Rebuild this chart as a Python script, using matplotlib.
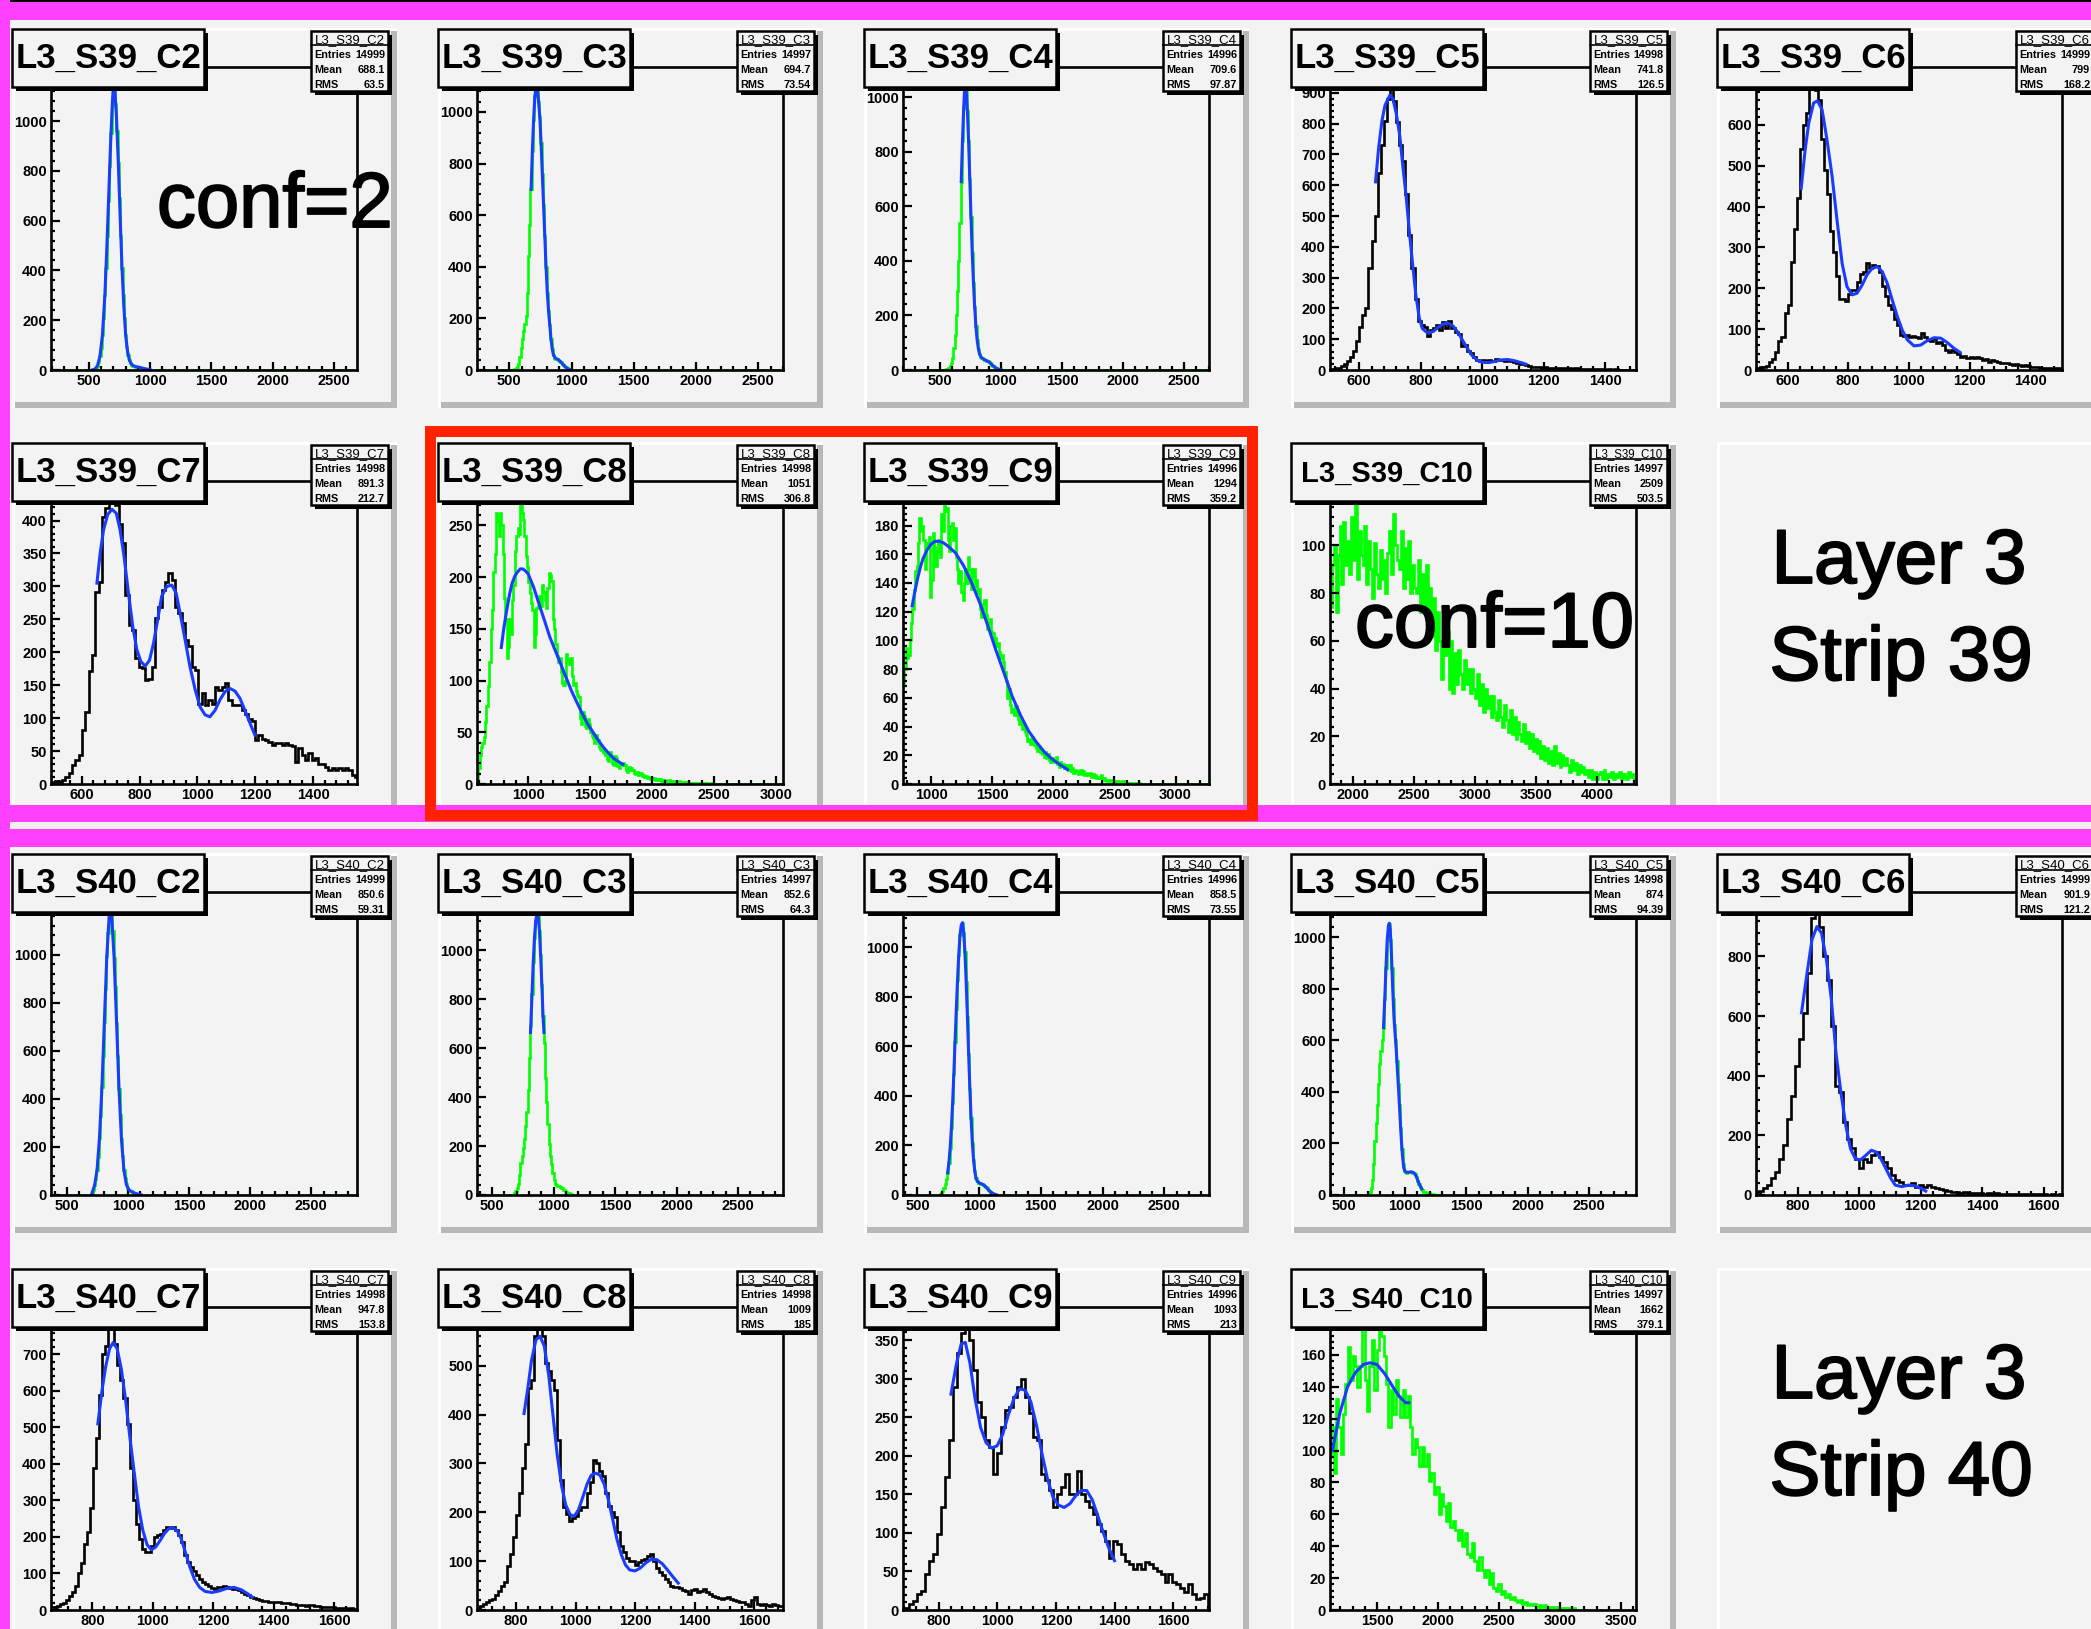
import numpy as np
import matplotlib
matplotlib.use('Agg')
import matplotlib.pyplot as plt
import matplotlib.patheffects as pe
from matplotlib.patches import Rectangle
from matplotlib.ticker import MultipleLocator

plt.rcParams['font.family'] = ['Liberation Sans', 'DejaVu Sans']
plt.rcParams['font.weight'] = 'bold'

W, H = 2091, 1629
PAD_X = [12, 438, 864, 1291, 1717]
PAD_Y = [28, 442, 853, 1268]
PAD_W, PAD_H = 385, 380

BG = '#f3f3f3'
GREEN = '#00ff00'
BLUE = '#1a3cff'
MAGENTA = '#ff40ff'
RED = '#ff2200'

# ---------------- strip 39 ----------------
s39_c2_counts = [1, 2, 4, 8, 18, 32, 55, 88, 140, 210, 300, 410, 540, 680, 820, 950, 1060, 1150,
                 1140, 1070, 960, 830, 690, 540, 410, 300, 210, 140, 92, 60, 40, 28, 22, 18, 16, 14,
                 13, 12, 11, 10, 8, 7, 6, 5, 4, 3, 2, 1, 1]
s39_c2_fit = [(530, 1), (550, 4), (570, 18), (590, 55), (610, 140), (630, 300), (645, 475), (660, 680),
              (675, 885), (690, 1060), (700, 1150), (710, 1140), (725, 1015), (740, 830), (755, 615),
              (770, 410), (785, 255), (800, 140), (815, 76), (830, 40), (845, 25), (860, 18), (880, 14),
              (900, 12), (920, 10), (940, 7), (960, 5), (980, 3), (1000, 1)]

s39_c3_counts = [3, 6, 12, 25, 50, 85, 120, 150, 180, 210, 300, 440, 560, 700, 850, 970, 1060, 1100,
                 1090, 1040, 980, 880, 760, 640, 520, 400, 300, 230, 175, 120, 80, 58, 48, 44, 42, 40,
                 36, 30, 24, 19, 14, 10, 7, 4, 2, 1]
s39_c3_fit = [(675, 700), (685, 850), (695, 970), (705, 1060), (715, 1100), (725, 1090), (735, 1040),
              (745, 980), (755, 880), (765, 760), (775, 640), (785, 520), (795, 400), (805, 300),
              (815, 230), (825, 175), (835, 120), (845, 80), (855, 58), (870, 46), (890, 41), (910, 33),
              (930, 22), (950, 12), (970, 5), (990, 1)]

s39_c4_counts = [2, 4, 8, 14, 25, 45, 80, 130, 200, 290, 400, 540, 690, 840, 960, 1050, 1030, 950,
                 840, 700, 560, 430, 320, 230, 160, 110, 78, 58, 48, 43, 40, 38, 36, 34, 32, 28, 24,
                 20, 16, 12, 9, 6, 4, 3, 2, 1]
s39_c4_fit = [(675, 690), (685, 840), (695, 960), (705, 1050), (715, 1030), (725, 950), (735, 840),
              (745, 700), (755, 560), (765, 430), (775, 320), (785, 230), (795, 160), (805, 110),
              (815, 78), (825, 58), (840, 46), (860, 39), (880, 35), (900, 30), (920, 22), (940, 14),
              (960, 7), (980, 3), (1000, 1)]

s39_c5_counts = [3, 4, 5, 6, 12, 18, 28, 42, 62, 95,
                 140, 180, 200, 330, 420, 500, 640, 730, 810, 880,
                 935, 875, 805, 730, 680, 570, 440, 330, 230, 160,
                 145, 140, 110, 130, 135, 145, 130, 157, 138, 160,
                 135, 122, 118, 78, 80, 62, 55, 42, 33, 30,
                 32, 28, 33, 30, 35, 31, 34, 30, 33, 29,
                 26, 22, 20, 18, 16, 12, 10, 9, 10, 8,
                 9, 7, 8, 6, 7, 5, 6, 5, 7, 4,
                 5, 4, 3, 4, 3, 2, 3, 2, 3, 2,
                 1, 2, 1, 2, 1, 1, 1, 0, 1, 0]
s39_c5_fit = [(653, 611), (663, 720), (674, 810), (684, 860), (700, 893), (710, 880), (721, 830),
              (732, 760), (742, 660), (753, 560), (763, 450), (774, 340), (784, 245), (795, 170),
              (805, 135), (816, 125), (826, 120), (842, 126), (858, 140), (874, 150), (890, 152),
              (905, 143), (921, 122), (937, 95), (953, 68), (968, 46), (984, 32), (1000, 25),
              (1021, 24), (1042, 28), (1063, 33), (1084, 34), (1105, 30), (1126, 24), (1142, 19)]

s39_c6_counts = [5, 8, 8, 10, 20, 28, 45, 70, 80, 140,
                 160, 265, 345, 420, 540, 600, 630, 700, 705, 685,
                 660, 565, 490, 430, 340, 290, 230, 175, 175, 170,
                 185, 195, 195, 215, 235, 240, 262, 250, 258, 255,
                 240, 205, 180, 160, 150, 125, 110, 86, 84, 86,
                 80, 84, 82, 78, 90, 80, 74, 70, 78, 65,
                 69, 62, 49, 45, 48, 45, 38, 33, 35, 29,
                 31, 29, 33, 30, 25, 28, 20, 25, 22, 20,
                 18, 16, 18, 15, 12, 14, 12, 10, 12, 9,
                 8, 7, 8, 6, 5, 6, 4, 3, 5, 6]
s39_c6_fit = [(645, 445), (658, 539), (670, 605), (686, 654), (699, 659), (714, 637), (730, 564),
              (747, 474), (763, 368), (780, 261), (796, 204), (813, 184), (829, 188), (846, 208),
              (862, 233), (879, 249), (896, 253), (912, 241), (929, 212), (945, 172), (962, 131),
              (978, 98), (995, 74), (1017, 59), (1039, 61), (1061, 72), (1083, 79), (1105, 78),
              (1127, 67), (1149, 53), (1169, 43)]

s39_c7_counts = [3, 4, 3, 6, 10, 16, 29, 36, 44, 82,
                 110, 171, 196, 292, 307, 406, 419, 431, 438, 424,
                 395, 366, 287, 241, 234, 191, 178, 176, 158, 160,
                 178, 252, 269, 295, 307, 320, 310, 269, 259, 244,
                 219, 209, 178, 173, 122, 138, 120, 128, 122, 148,
                 143, 148, 153, 128, 120, 120, 120, 112, 107, 98,
                 95, 67, 74, 69, 67, 64, 59, 62, 62, 59,
                 62, 59, 57, 34, 54, 44, 36, 47, 36, 39,
                 31, 31, 26, 21, 24, 21, 24, 21, 24, 22,
                 14, 11]
s39_c7_fit = [(652, 305), (663, 350), (675, 386), (689, 409), (704, 417), (719, 411), (732, 386),
              (746, 345), (761, 290), (776, 239), (790, 204), (804, 186), (819, 179), (834, 188),
              (848, 214), (862, 249), (876, 285), (894, 300), (911, 302), (926, 290), (940, 259),
              (957, 219), (974, 178), (992, 143), (1009, 117), (1026, 105), (1043, 102), (1061, 112),
              (1078, 128), (1095, 140), (1113, 145), (1130, 141), (1147, 130), (1164, 112),
              (1182, 92), (1199, 74)]

s39_c8_counts = [5, 15, 28, 36, 40, 45, 60, 75, 95, 118, 150, 168, 205, 222, 262, 254, 240, 262, 250,
                 222, 180, 160, 122, 132, 160, 145, 178, 192, 225, 240, 248, 242, 279, 262, 255, 240,
                 220, 210, 195, 185, 175, 168, 132, 145, 170, 172, 182, 172, 192, 186, 178, 170, 190,
                 204, 202, 196, 160, 150, 135, 124, 118, 122, 108, 98, 96, 100, 126, 120, 116, 122,
                 104, 96, 98, 90, 86, 84, 64, 58, 70, 66, 56, 54, 63, 58, 50, 46, 44, 40, 47, 43, 36,
                 34, 33, 31, 30, 28, 24, 22, 31, 27, 20, 18, 27, 25, 17, 15, 20, 18, 20, 18, 14, 12,
                 16, 14, 15, 14, 11, 10, 12, 9, 10, 11, 8, 9, 7, 8, 6, 7, 5, 6, 5, 6, 4, 5, 4, 5, 3,
                 4, 3, 4, 3, 3, 4, 2, 3, 2, 3, 2, 2, 3, 1, 2, 2, 1, 2, 1, 2, 1, 1, 0, 1, 1, 0, 1, 0,
                 1, 0, 0, 1, 0, 1, 0, 0, 1]
s39_c8_fit = [(782, 132), (804, 152), (826, 168), (848, 183), (869, 194), (891, 201), (913, 205),
              (935, 208), (956, 208), (978, 206), (1000, 203), (1044, 190), (1087, 174), (1131, 158),
              (1174, 142), (1218, 129), (1262, 116), (1305, 103), (1349, 90), (1392, 79), (1436, 68),
              (1479, 58), (1523, 50), (1567, 42), (1610, 35), (1654, 29), (1697, 24), (1763, 19)]

s39_c9_counts = [70, 80, 95, 88, 90, 100, 112, 122, 135, 148, 152, 168, 185, 176, 180, 170, 150, 165,
                 168, 172, 130, 142, 175, 165, 152, 162, 170, 158, 188, 176, 198, 190, 192, 170, 162,
                 180, 182, 170, 178, 158, 150, 140, 148, 134, 128, 140, 150, 140, 158, 150, 136, 145,
                 150, 138, 142, 133, 136, 122, 116, 125, 128, 118, 108, 112, 115, 106, 105, 98, 102,
                 96, 98, 92, 88, 90, 85, 78, 72, 60, 66, 55, 50, 52, 48, 54, 48, 45, 42, 44, 38, 41,
                 36, 34, 30, 31, 28, 33, 30, 27, 25, 23, 25, 22, 24, 21, 19, 22, 18, 21, 17, 15, 18,
                 16, 15, 19, 14, 12, 15, 13, 14, 11, 13, 12, 10, 13, 9, 11, 8, 10, 9, 7, 8, 10, 7, 9,
                 6, 8, 7, 6, 8, 5, 7, 5, 6, 4, 5, 4, 6, 3, 4, 3, 2, 3, 2, 2, 3, 1, 2, 2, 1, 2, 1, 1,
                 2, 0, 1, 1, 0, 1, 0, 1, 0, 0, 1, 0, 1]
s39_c9_fit = [(845, 124), (867, 134), (889, 143), (912, 151), (934, 157), (967, 163), (1000, 167),
              (1033, 169), (1066, 169), (1100, 168), (1133, 166), (1199, 161), (1266, 152),
              (1332, 140), (1399, 126), (1465, 110), (1531, 93), (1598, 77), (1664, 61), (1731, 48),
              (1797, 37), (1863, 29), (1930, 22), (1996, 17), (2063, 13), (2116, 10)]

s39_c10_counts = [74, 92, 100, 72, 96, 108, 84, 110, 92, 102, 88, 112, 94, 117, 86, 106, 96, 92, 108,
                  84, 102, 90, 78, 101, 88, 82, 98, 86, 94, 80, 97, 106, 88, 113, 100, 94, 90, 106, 82,
                  99, 86, 102, 80, 92, 82, 80, 94, 72, 88, 74, 92, 70, 82, 62, 78, 56, 72, 60, 44, 70,
                  54, 64, 40, 60, 38, 55, 42, 56, 46, 40, 52, 42, 48, 38, 48, 40, 36, 46, 33, 42, 30,
                  40, 32, 37, 28, 37, 30, 27, 35, 28, 24, 33, 27, 22, 31, 21, 28, 19, 26, 21, 18, 25,
                  17, 22, 15, 21, 14, 19, 13, 18, 11, 16, 10, 15, 9, 14, 8, 16, 9, 13, 7, 12, 8, 11,
                  8, 5, 10, 6, 9, 4, 8, 5, 7, 4, 6, 3, 6, 2, 5, 2, 4, 5, 2, 6, 2, 4, 3, 5, 2, 4, 3, 5,
                  2, 4, 3, 2, 5, 3, 4, 2]

# ---------------- strip 40 ----------------
s40_c2_counts = [9, 21, 41, 68, 103, 158, 238, 327, 448, 578, 722, 858, 993, 1092, 1168, 1192, 1160,
                 1098, 985, 864, 716, 579, 441, 334, 231, 163, 104, 70, 44, 31, 22, 17, 15, 12, 10, 8,
                 6, 5, 4, 3, 2, 1]
s40_c2_fit = [(705, 9), (725, 41), (745, 103), (765, 238), (785, 448), (805, 722), (825, 993),
              (845, 1168), (855, 1192), (865, 1160), (885, 985), (905, 716), (925, 441), (945, 231),
              (965, 104), (985, 44), (1005, 22), (1025, 15), (1045, 10), (1065, 6), (1085, 3),
              (1105, 1)]

s40_c3_counts = [8, 16, 30, 45, 80, 130, 160, 190, 230, 280, 340, 430, 560, 690, 820, 950, 1050, 1120,
                 1150, 1140, 1080, 980, 860, 730, 620, 480, 380, 290, 210, 160, 125, 90, 60, 45, 40,
                 38, 36, 33, 30, 27, 22, 18, 14, 10, 7, 5, 3, 2, 1]
s40_c3_fit = [(813, 664), (825, 820), (835, 950), (845, 1050), (855, 1120), (865, 1150), (875, 1140),
              (885, 1080), (895, 980), (905, 860), (915, 730), (922, 664)]

s40_c4_counts = [5, 10, 18, 30, 45, 65, 90, 130, 190, 270, 370, 490, 620, 750, 870, 970, 1050, 1090,
                 1100, 1060, 980, 860, 720, 570, 430, 310, 210, 140, 95, 68, 55, 50, 48, 46, 44, 42,
                 38, 33, 27, 21, 16, 11, 8, 5, 3, 2, 1]
s40_c4_fit = [(745, 90), (755, 130), (765, 190), (775, 270), (785, 370), (795, 490), (805, 620),
              (815, 750), (825, 870), (835, 970), (845, 1050), (855, 1090), (865, 1100), (875, 1060),
              (885, 980), (895, 860), (905, 720), (915, 570), (925, 430), (935, 310), (945, 210),
              (955, 140), (965, 95), (975, 68), (985, 55), (1000, 49), (1020, 45), (1040, 40),
              (1060, 30), (1080, 18), (1100, 10), (1120, 4), (1140, 1)]

s40_c5_counts = [5, 12, 28, 60, 120, 210, 280, 350, 430, 510, 560, 600, 650, 760, 880, 990, 1045,
                 1050, 990, 880, 760, 660, 600, 520, 430, 350, 260, 180, 120, 95, 88, 86, 88, 90, 89,
                 88, 86, 84, 80, 70, 56, 42, 32, 24, 18, 13, 10, 8, 7, 6, 5, 4, 3, 2, 1]
s40_c5_fit = [(825, 650), (835, 760), (845, 880), (855, 990), (865, 1045), (872, 1055), (880, 1030),
              (890, 930), (900, 800), (910, 690), (920, 620), (930, 555), (940, 470), (950, 390),
              (960, 300), (970, 215), (980, 150), (990, 105), (1000, 92), (1015, 88), (1030, 88),
              (1045, 90), (1060, 89), (1075, 85), (1090, 74), (1105, 56), (1120, 38), (1136, 24)]

s40_c6_counts = [11, 15, 22, 35, 56, 78, 122, 167, 256, 333, 433, 522, 611, 744, 930, 965, 900, 800,
                 722, 567, 367, 344, 244, 189, 156, 122, 89, 122, 111, 133, 144, 128, 111, 89, 67, 50,
                 44, 33, 33, 39, 28, 33, 28, 33, 28, 22, 20, 17, 13, 11, 9, 8, 9, 7, 8, 6, 7, 5, 6, 5,
                 6, 4, 5, 4, 3, 4, 3, 4, 2, 3, 2, 3, 2, 1, 2, 1, 2]
s40_c6_fit = [(813, 611), (831, 744), (847, 856), (863, 900), (878, 878), (894, 789), (910, 656),
              (925, 478), (941, 344), (957, 233), (972, 156), (988, 122), (1004, 117), (1022, 133),
              (1040, 150), (1056, 144), (1071, 122), (1087, 89), (1103, 56), (1118, 33), (1139, 28),
              (1160, 33), (1181, 31), (1202, 22), (1217, 13)]

s40_c7_counts = [7, 7, 10, 16, 20, 27, 38, 50, 65, 100, 128, 180, 215, 280, 390, 470, 590, 700, 722,
                 780, 790, 730, 670, 630, 580, 510, 390, 300, 236, 195, 168, 160, 160, 175, 199, 205,
                 209, 218, 227, 225, 226, 218, 205, 186, 150, 132, 118, 108, 96, 86, 76, 70, 67, 60,
                 58, 62, 64, 67, 62, 60, 58, 57, 55, 50, 45, 40, 35, 32, 30, 27, 26, 26, 23, 21, 22,
                 21, 19, 18, 20, 17, 16, 15, 14, 13, 12, 14, 13, 12, 11, 9, 8, 7, 7, 7, 6, 5, 5, 5, 4,
                 5, 4]
s40_c7_fit = [(818, 510), (832, 602), (844, 667), (857, 716), (869, 733), (882, 716), (896, 659),
              (910, 575), (924, 474), (939, 373), (953, 282), (967, 218), (981, 179), (995, 165),
              (1009, 172), (1024, 190), (1038, 209), (1052, 222), (1066, 226), (1081, 217),
              (1095, 193), (1109, 155), (1123, 117), (1138, 84), (1155, 62), (1173, 51), (1196, 48),
              (1219, 52), (1244, 59), (1269, 62), (1294, 55), (1315, 44), (1330, 35)]

s40_c8_counts = [5, 8, 12, 16, 20, 23, 30, 38, 50, 57, 90, 115, 150, 195, 240, 290, 340, 455, 470, 560,
                 575, 590, 560, 505, 490, 470, 450, 348, 265, 211, 197, 183, 188, 192, 205, 211, 211,
                 240, 262, 306, 300, 285, 275, 240, 212, 200, 190, 160, 130, 118, 106, 101, 101, 93,
                 99, 103, 105, 110, 115, 100, 86, 78, 72, 64, 57, 50, 47, 47, 45, 40, 38, 33, 40, 43,
                 36, 38, 43, 36, 33, 28, 26, 24, 23, 25, 27, 23, 21, 19, 17, 16, 12, 9, 20, 26, 12, 11,
                 12, 10, 9, 12, 10, 9, 9]
s40_c8_fit = [(827, 402), (840, 455), (852, 510), (867, 553), (881, 560), (895, 540), (910, 480),
              (924, 400), (938, 320), (953, 255), (967, 215), (982, 195), (996, 192), (1010, 205),
              (1025, 232), (1039, 258), (1053, 276), (1068, 280), (1082, 276), (1096, 258),
              (1110, 226), (1125, 185), (1139, 145), (1154, 113), (1168, 92), (1182, 82), (1200, 80),
              (1218, 86), (1237, 97), (1255, 104), (1273, 103), (1291, 95), (1309, 82), (1327, 68),
              (1345, 55)]

s40_c9_counts = [1, 3, 8, 12, 21, 25, 47, 64, 73, 99, 133, 172, 220, 289, 333, 359, 372, 350, 311,
                 270, 250, 220, 211, 177, 203, 237, 259, 263, 276, 289, 300, 276, 255, 224, 220, 177,
                 168, 155, 133, 151, 159, 177, 151, 151, 180, 151, 142, 133, 125, 112, 103, 90, 68,
                 90, 85, 73, 64, 60, 53, 60, 53, 62, 60, 55, 51, 47, 36, 47, 36, 34, 29, 23, 34, 21,
                 14, 16, 21]
s40_c9_fit = [(841, 280), (860, 320), (876, 345), (890, 347), (906, 320), (923, 275), (942, 237),
              (961, 217), (980, 210), (999, 213), (1018, 228), (1037, 253), (1057, 275), (1076, 287),
              (1095, 285), (1114, 270), (1133, 240), (1152, 203), (1171, 170), (1190, 146),
              (1209, 136), (1228, 133), (1248, 138), (1267, 148), (1286, 155), (1305, 155),
              (1324, 143), (1343, 122), (1362, 100), (1381, 80), (1400, 64)]

s40_c10_counts = [96, 115, 86, 132, 115, 98, 123, 142, 165, 144, 159, 153, 140, 153, 176, 144, 125,
                  153, 169, 138, 163, 176, 172, 159, 142, 115, 138, 123, 144, 134, 121, 138, 121, 134,
                  115, 98, 107, 102, 90, 102, 90, 98, 81, 86, 73, 77, 60, 73, 65, 56, 67, 52, 56, 50,
                  44, 50, 40, 48, 35, 33, 42, 31, 25, 33, 25, 21, 25, 16, 23, 14, 12, 16, 10, 12, 8,
                  10, 7, 8, 6, 5, 6, 4, 5, 3, 4, 3, 4, 2, 3, 2, 3, 2, 1, 2, 1, 2, 1, 1, 0, 1, 1, 0, 1]
s40_c10_fit = [(1135, 100), (1194, 123), (1259, 140), (1324, 149), (1389, 154), (1441, 155),
               (1500, 154), (1565, 148), (1630, 140), (1682, 134), (1735, 130), (1761, 130)]

# name, row, col, entries, mean, rms, xlim, ylim, x major/minor, y major/minor,
# colour, first bin edge, bin width, counts, fit
panels = [
    ('L3_S39_C2', 0, 0, '14999', '688.1', '63.5', (190, 2690), (0, 1217), 500, 100, 200, 40, GREEN, 525, 10, s39_c2_counts, s39_c2_fit),
    ('L3_S39_C3', 0, 1, '14997', '694.7', '73.54', (240, 2700), (0, 1174), 500, 100, 200, 40, GREEN, 540, 10, s39_c3_counts, s39_c3_fit),
    ('L3_S39_C4', 0, 2, '14996', '709.6', '97.87', (198, 2704), (0, 1110), 500, 100, 200, 40, GREEN, 550, 10, s39_c4_counts, s39_c4_fit),
    ('L3_S39_C5', 0, 3, '14998', '741.8', '126.5', (505, 1500), (0, 984), 200, 40, 100, 20, 'black', 500, 10, s39_c5_counts, s39_c5_fit),
    ('L3_S39_C6', 0, 4, '14999', '799', '168.2', (496, 1505), (0, 742), 200, 40, 100, 20, 'black', 500, 10, s39_c6_counts, s39_c6_fit),
    ('L3_S39_C7', 1, 0, '14998', '891.3', '212.7', (493, 1552), (0, 460), 200, 40, 50, 10, 'black', 496.3, 11.52, s39_c7_counts, s39_c7_fit),
    ('L3_S39_C8', 1, 1, '14998', '1051', '306.8', (586, 3056), (0, 293), 500, 100, 50, 10, GREEN, 586, 10.9, s39_c8_counts, s39_c8_fit),
    ('L3_S39_C9', 1, 2, '14996', '1294', '359.2', (770, 3274), (0, 211), 500, 100, 20, 4, GREEN, 770, 11.07, s39_c9_counts, s39_c9_fit),
    ('L3_S39_C10', 1, 3, '14997', '2509', '503.5', (1811, 4318), (0, 127), 500, 100, 20, 4, GREEN, 1811, 15.67, s39_c10_counts, None),
    ('L3_S40_C2', 2, 0, '14999', '850.6', '59.31', (368, 2874), (0, 1261), 500, 100, 200, 40, GREEN, 700, 10, s40_c2_counts, s40_c2_fit),
    ('L3_S40_C3', 2, 1, '14997', '852.6', '64.3', (378, 2865), (0, 1238), 500, 100, 200, 40, GREEN, 680, 10, s40_c3_counts, s40_c3_fit),
    ('L3_S40_C4', 2, 2, '14996', '858.5', '73.55', (383, 2863), (0, 1224), 500, 100, 200, 40, GREEN, 680, 10, s40_c4_counts, s40_c4_fit),
    ('L3_S40_C5', 2, 3, '14998', '874', '94.39', (389, 2882), (0, 1176), 500, 100, 200, 40, GREEN, 700, 10, s40_c5_counts, s40_c5_fit),
    ('L3_S40_C6', 2, 4, '14999', '901.9', '121.2', (665, 1660), (0, 1016), 200, 40, 200, 40, 'black', 663, 13, s40_c6_counts, s40_c6_fit),
    ('L3_S40_C7', 3, 0, '14998', '947.8', '153.8', (663, 1676), (0, 830), 200, 40, 100, 20, 'black', 663, 10, s40_c7_counts, s40_c7_fit),
    ('L3_S40_C8', 3, 1, '14998', '1009', '185', (669, 1697), (0, 620), 200, 40, 100, 20, 'black', 669, 10, s40_c8_counts, s40_c8_fit),
    ('L3_S40_C9', 3, 2, '14996', '1093', '213', (677, 1723), (0, 393), 200, 40, 50, 10, 'black', 670, 13.65, s40_c9_counts, s40_c9_fit),
    ('L3_S40_C10', 3, 3, '14997', '1662', '379.1', (1115, 3623), (0, 190), 500, 100, 20, 4, GREEN, 1105, 19.56, s40_c10_counts, s40_c10_fit),
]

label_pads = [(1, 4, 'Layer 3', 'Strip 39', 583, 680), (3, 4, 'Layer 3', 'Strip 40', 1398, 1495)]


def stairs_data(start, bw, counts, lo, hi):
    counts = np.asarray(counts, dtype=float)
    n_left = max(int(np.ceil((start - lo) / bw)), 0)
    n_right = max(int(np.ceil((hi - (start + bw * len(counts))) / bw)), 0)
    vals = np.concatenate([np.zeros(n_left), counts, np.zeros(n_right)])
    edges = (start - n_left * bw) + bw * np.arange(len(vals) + 1)
    return edges, vals


def pixel_axes(z):
    a = fig.add_axes([0, 0, 1, 1], zorder=z)
    a.set_xlim(0, W)
    a.set_ylim(H, 0)
    a.axis('off')
    return a


def shadow_box(a, x, y, w, h):
    a.add_patch(Rectangle((x + 4, y + 4), w, h, facecolor='black', edgecolor='none', zorder=3))
    a.add_patch(Rectangle((x, y), w, h, facecolor=BG, edgecolor='black', lw=1.8, zorder=4))


fig = plt.figure(figsize=(W / 100, H / 100), dpi=100)
fig.patch.set_facecolor(BG)

bg = pixel_axes(0)
ov = pixel_axes(5)

# pads with bevelled edges
used = [(p[1], p[2]) for p in panels] + [(r, c) for r, c, *_ in label_pads]
for r, c in used:
    x, y = PAD_X[c], PAD_Y[r]
    bg.add_patch(Rectangle((x, y), PAD_W, PAD_H, facecolor=BG, edgecolor='none'))
    bg.add_patch(Rectangle((x, y), PAD_W, 3, facecolor='white', edgecolor='none'))
    bg.add_patch(Rectangle((x, y), 3, PAD_H, facecolor='white', edgecolor='none'))
    bg.add_patch(Rectangle((x + PAD_W - 6, y + 3), 6, PAD_H - 3, facecolor='#b8b8b8', edgecolor='none'))
    bg.add_patch(Rectangle((x + 3, y + PAD_H - 6), PAD_W - 3, 6, facecolor='#b8b8b8', edgecolor='none'))

for (name, row, col, entries, mean, rms, xlim, ylim, xmaj, xmin_, ymaj, ymin_,
     colour, start, bw, counts, fit) in panels:
    px, py = PAD_X[col], PAD_Y[row]
    ax = fig.add_axes([(px + 39) / W, 1 - (py + 342) / H, 306 / W, 303 / H], zorder=2)
    ax.patch.set_alpha(0)
    edges, vals = stairs_data(start, bw, counts, *xlim)
    ax.stairs(vals, edges, color=colour, lw=1.9, baseline=None)
    if fit is not None:
        fx, fy = np.array(fit, dtype=float).T
        ax.plot(fx, fy, color=BLUE, lw=2.2, solid_joinstyle='round')
    ax.set_xlim(xlim)
    ax.set_ylim(ylim)
    ax.xaxis.set_major_locator(MultipleLocator(xmaj))
    ax.xaxis.set_minor_locator(MultipleLocator(xmin_))
    # labels near the top sit under the title box, so they are left out
    ax.set_yticks(np.arange(0, ylim[1] * 0.93, ymaj))
    ax.yaxis.set_minor_locator(MultipleLocator(ymin_))
    ax.set_ylim(ylim)
    ax.tick_params(which='both', direction='in', top=False, right=False, width=1.6,
                   labelsize=10.5, pad=3)
    ax.tick_params(axis='x', which='major', length=6)
    ax.tick_params(axis='x', which='minor', length=3)
    ax.tick_params(axis='y', which='major', length=6.5)
    ax.tick_params(axis='y', which='minor', length=3.2)
    for s in ax.spines.values():
        s.set_linewidth(1.9)

    # title box
    shadow_box(ov, px, py + 1, 192, 58)
    big = 21 if name.endswith('C10') else 25
    ov.text(px + 96, py + 40, name, ha='center', va='baseline', fontsize=big,
            fontweight='bold', zorder=6)

    # statistics box
    sx, sy = px + 299, py + 3
    shadow_box(ov, sx, sy, 77, 60)
    ov.plot([sx, sx + 77], [sy + 14, sy + 14], color='black', lw=1.2, zorder=5)
    hdr = 8.3 if name.endswith('C10') else 9.5
    ov.text(sx + 38.5, sy + 12, name, ha='center', va='baseline', fontsize=hdr,
            fontweight='normal', zorder=6)
    for k, (lab, val) in enumerate([('Entries', entries), ('Mean', mean), ('RMS', rms)]):
        yb = sy + 27 + 15 * k
        ov.text(sx + 3, yb, lab, ha='left', va='baseline', fontsize=7.8, zorder=6)
        ov.text(sx + 74, yb, val, ha='right', va='baseline', fontsize=7.8, zorder=6)

# big annotations, drawn slightly heavier than the regular face
heavy = [pe.withStroke(linewidth=1.4, foreground='black')]
ov.text(157, 227, 'conf=2', ha='left', va='baseline', fontsize=56, fontweight='normal',
        zorder=7, path_effects=heavy)
ov.text(1355, 647, 'conf=10', ha='left', va='baseline', fontsize=56, fontweight='normal',
        zorder=7, path_effects=heavy)
for r, c, l1, l2, b1, b2 in label_pads:
    ov.text(1899, b1, l1, ha='center', va='baseline', fontsize=55, fontweight='normal',
            zorder=7, path_effects=heavy)
    ov.text(1901, b2, l2, ha='center', va='baseline', fontsize=55, fontweight='normal',
            zorder=7, path_effects=heavy)

# canvas frames
ov.add_patch(Rectangle((0, 0), W, 20, facecolor=MAGENTA, edgecolor='none', zorder=8))
ov.add_patch(Rectangle((0, 0), W, 2, facecolor='black', edgecolor='none', zorder=8))
ov.add_patch(Rectangle((0, 805), W, 17, facecolor=MAGENTA, edgecolor='none', zorder=8))
ov.add_patch(Rectangle((0, 822), W, 7, facecolor='#efefef', edgecolor='none', zorder=8))
ov.add_patch(Rectangle((0, 829), W, 18, facecolor=MAGENTA, edgecolor='none', zorder=8))
ov.add_patch(Rectangle((0, 0), 10, H, facecolor=MAGENTA, edgecolor='none', zorder=8))

# highlighted pair
ov.add_patch(Rectangle((429.5, 430.5), 822, 384, facecolor='none', edgecolor=RED, lw=7.9, zorder=9))

fig.savefig('out.png', dpi=100, facecolor=BG)
